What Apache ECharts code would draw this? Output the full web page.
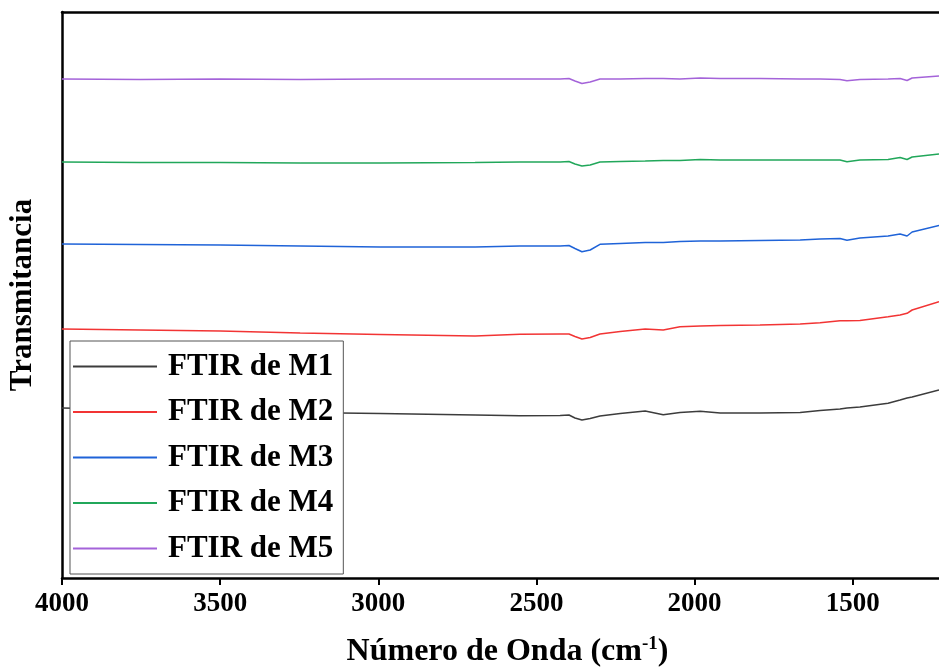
<!DOCTYPE html>
<html>
<head>
<meta charset="utf-8">
<script src="https://cdn.jsdelivr.net/npm/echarts@6/dist/echarts.min.js"></script>
<style>
html,body{margin:0;padding:0;background:#fff;}
#chart{width:939px;height:669px;}
</style>
</head>
<body>
<div id="chart"></div>
<script>
const wavenumbers = [4000, 3753, 3500, 3247, 2994, 2694, 2552, 2425, 2397, 2378, 2356, 2330, 2299, 2235, 2156, 2099, 2046, 1982, 1919, 1793, 1666, 1603, 1540, 1518, 1477, 1388, 1350, 1328, 1312, 1227];
const seriesNames = ['FTIR de M1', 'FTIR de M2', 'FTIR de M3', 'FTIR de M4', 'FTIR de M5'];
const m1 = [170, 168.5, 167, 165.5, 164.5, 163, 162.3, 162.5, 163, 160, 158, 159.5, 162, 164.5, 167, 163.3, 165.5, 166.7, 165, 165, 165.5, 167.5, 169, 170, 171, 174.7, 178, 180, 181, 188];
const m2 = [249, 248, 247, 245, 243.5, 242, 243.7, 244, 244, 241.5, 239, 240.5, 244, 246.5, 249, 248, 251.3, 252, 252.5, 253, 254, 255.3, 257.3, 257.3, 257.5, 261.3, 263, 264.7, 268, 276.3];
const m3 = [334, 333.5, 333, 332, 331, 331, 332, 332, 332.5, 329.5, 326.3, 328, 333.7, 334.5, 335.5, 335.5, 336.5, 337, 337, 337.5, 338, 339, 339.5, 337.7, 340, 342, 344, 342, 346, 352.4];
const m4 = [416, 415.5, 415.5, 415, 415, 415.5, 416, 416, 416.5, 414, 412, 413, 416, 416.5, 417, 417.5, 417.5, 418.5, 418, 418, 418, 418, 418, 416.3, 418, 418.5, 420.5, 418.5, 421, 424];
const m5 = [499, 498.5, 499, 498.5, 499, 499, 499, 499, 499.5, 497, 494.5, 496, 499, 499, 499.5, 499.5, 499, 500, 499.5, 499.5, 499, 499, 498.5, 497.3, 498.5, 499, 499.5, 497.5, 500, 502];
const xTicks = [4000, 3500, 3000, 2500, 2000, 1500];
const colors = ['#3c3c3c', '#f23434', '#1f63d8', '#21a75a', '#a463d9'];

const allValues = [m1, m2, m3, m4, m5];
const font = 'Liberation Serif, Times New Roman, serif';

const chart = echarts.init(document.getElementById('chart'), null, {renderer: 'canvas'});
chart.setOption({
  animation: false,
  backgroundColor: '#ffffff',
  grid: {left: 62, top: 12, right: 0, bottom: 91, containLabel: false, outerBoundsMode: 'none'},
  legend: {
    orient: 'vertical',
    left: 70, top: 341,
    padding: [10, 10, 10, 3],
    itemGap: 14.5,
    itemWidth: 84,
    itemHeight: 2,
    icon: 'rect',
    backgroundColor: '#ffffff',
    borderColor: '#555555',
    borderWidth: 1,
    textStyle: {fontFamily: font, fontWeight: 'bold', fontSize: 31, color: '#000', lineHeight: 31, padding: [0, 0, 0, 6]},
    data: seriesNames
  },
  xAxis: [{
    type: 'value',
    inverse: true,
    min: 1227, max: 4000,
    axisLine: {show: true, onZero: false, lineStyle: {color: '#000', width: 2.5}},
    axisTick: {show: true, inside: false, length: 7, customValues: xTicks, lineStyle: {color: '#000', width: 2}},
    axisLabel: {customValues: xTicks, formatter: v => String(v), fontFamily: font, fontWeight: 'bold', fontSize: 27, color: '#000', margin: 13},
    splitLine: {show: false},
    name: 'Número de Onda (cm{sup|-1})',
    nameLocation: 'middle',
    nameGap: 57,
    nameTextStyle: {
      fontFamily: font, fontWeight: 'bold', fontSize: 32, color: '#000', padding: [0, 0, 0, 14],
      rich: {sup: {fontFamily: font, fontWeight: 'bold', fontSize: 19, color: '#000', padding: [0, 0, 14, 0]}}
    }
  }, {
    type: 'value', position: 'top', inverse: true, min: 1227, max: 4000,
    axisLine: {show: true, onZero: false, lineStyle: {color: '#000', width: 2.5}},
    axisTick: {show: false}, axisLabel: {show: false}, splitLine: {show: false}
  }],
  yAxis: {
    type: 'value', min: 0, max: 566,
    axisLine: {show: true, onZero: false, lineStyle: {color: '#000', width: 2.5}},
    axisTick: {show: false}, axisLabel: {show: false}, splitLine: {show: false},
    name: 'Transmitancia', nameLocation: 'middle', nameGap: 24, nameRotate: 90,
    nameTextStyle: {fontFamily: font, fontWeight: 'bold', fontSize: 31, color: '#000'}
  },
  series: seriesNames.map((n, i) => ({
    name: n, type: 'line', symbol: 'none', xAxisIndex: 0,
    color: colors[i],
    lineStyle: {color: colors[i], width: 1.5},
    data: wavenumbers.map((w, j) => [w, allValues[i][j]])
  }))
});
</script>
</body>
</html>
